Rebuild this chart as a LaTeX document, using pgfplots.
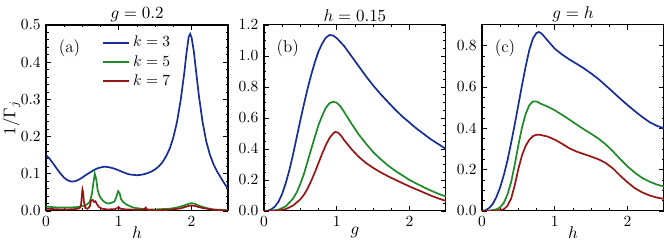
\documentclass[border=0pt]{standalone}
\usepackage{pgfplots}
\pgfplotsset{compat=1.18}
\definecolor{cB}{RGB}{22,46,150}
\definecolor{cG}{RGB}{30,138,40}
\definecolor{cR}{RGB}{150,22,22}
\newcommand{\elf}{\fontsize{11}{13}\selectfont}
\pgfplotsset{
  panel/.style={
    scale only axis, width=117.4pt, height=120pt,
    xmin=0, xmax=2.5, ymin=0,
    xtick={0,1,2}, minor x tick num=3,
    tick align=inside, xtick pos=both, ytick pos=both,
    major tick length=3pt, minor tick length=1.6pt,
    every tick/.style={black, line width=0.5pt},
    axis line style={line width=0.7pt},
    tick label style={font=\normalsize},
    yticklabel style={/pgf/number format/.cd, fixed, fixed zerofill, precision=1},
    every axis title shift=0pt,
    title style={at={(0.5,1)}, anchor=south, yshift=1.8pt, inner sep=0pt, font=\elf},
    label style={font=\elf},
    xlabel style={at={(axis description cs:0.5,0)}, anchor=center, yshift=-14pt},
    every axis plot/.append style={line width=1.1pt, no markers},
  }
}
\begin{document}
\begin{tikzpicture}
\path[use as bounding box] (-29.7pt,-24.5pt) rectangle (398.7pt,136.1pt);
% (a)
\begin{axis}[panel, at={(0pt,0pt)}, anchor=south west,
  ymax=0.5, ytick={0,0.1,...,0.5}, minor y tick num=4,
  title={$g=0.2$}, xlabel={$h$}, ylabel={$1/\Gamma_j$},
  ylabel style={at={(axis description cs:-0.19,0.5)}, anchor=center, rotate=0},
  legend style={at={(0.28,0.975)}, anchor=north west, draw=none, fill=none, font=\normalsize,
    row sep=0pt},
  legend cell align=left,
  legend image code/.code={\draw[#1, line width=1.1pt] (0cm,0cm) -- (0.6cm,0cm);}]
\addplot[cB] coordinates {
(0,0.150) (0.05,0.140) (0.1,0.127) (0.15,0.113) (0.2,0.100) (0.25,0.089) (0.3,0.082) (0.35,0.079) (0.4,0.080) (0.45,0.084) (0.5,0.090) (0.55,0.097) (0.6,0.103) (0.65,0.109) (0.7,0.114) (0.75,0.117) (0.8,0.119) (0.85,0.118) (0.9,0.116) (0.95,0.113) (1.0,0.109) (1.05,0.105) (1.1,0.101) (1.15,0.098) (1.2,0.097) (1.25,0.096) (1.3,0.097) (1.35,0.099) (1.4,0.102) (1.45,0.106) (1.5,0.112) (1.55,0.120) (1.6,0.131) (1.65,0.147) (1.7,0.168) (1.75,0.198) (1.8,0.240) (1.85,0.298) (1.9,0.372) (1.93,0.425) (1.96,0.468) (1.98,0.476) (2.0,0.466) (2.03,0.430) (2.06,0.378) (2.1,0.310) (2.15,0.240) (2.2,0.188) (2.25,0.152) (2.3,0.126) (2.35,0.106) (2.4,0.090) (2.45,0.074) (2.5,0.060)};
\addlegendentry{$k=3$}
\addplot[cG] coordinates {
(0,0.012) (0.1,0.010) (0.2,0.009) (0.3,0.009) (0.4,0.010) (0.45,0.011) (0.5,0.013) (0.55,0.016) (0.6,0.024) (0.63,0.045) (0.65,0.075) (0.67,0.100) (0.69,0.085) (0.71,0.055) (0.74,0.038) (0.78,0.028) (0.82,0.022) (0.86,0.020) (0.9,0.022) (0.94,0.025) (0.97,0.040) (0.99,0.053) (1.01,0.048) (1.03,0.032) (1.06,0.024) (1.1,0.018) (1.15,0.013) (1.2,0.009) (1.3,0.006) (1.4,0.004) (1.5,0.004) (1.6,0.005) (1.7,0.006) (1.8,0.009) (1.9,0.015) (1.97,0.020) (2.0,0.021) (2.05,0.019) (2.1,0.014) (2.2,0.008) (2.3,0.004) (2.4,0.003) (2.5,0.002)};
\addlegendentry{$k=5$}
\addplot[cR] coordinates {
(0,0.006) (0.1,0.005) (0.2,0.004) (0.3,0.004) (0.4,0.005) (0.46,0.007) (0.48,0.015) (0.5,0.058) (0.51,0.050) (0.52,0.025) (0.54,0.008) (0.57,0.006) (0.6,0.012) (0.62,0.028) (0.64,0.030) (0.66,0.024) (0.68,0.026) (0.7,0.018) (0.73,0.010) (0.77,0.006) (0.85,0.004) (0.95,0.005) (0.98,0.008) (1.0,0.010) (1.02,0.006) (1.1,0.004) (1.3,0.003) (1.35,0.004) (1.37,0.009) (1.39,0.003) (1.5,0.002) (1.7,0.003) (1.85,0.007) (1.95,0.013) (2.0,0.015) (2.05,0.013) (2.15,0.008) (2.3,0.003) (2.5,0.001)};
\addlegendentry{$k=7$}
\node[anchor=west, font=\elf] at (rel axis cs:0.04,0.875) {(a)};
\end{axis}
% (b)
\begin{axis}[panel, at={(140.6pt,0pt)}, anchor=south west,
  ymax=1.2, ytick={0,0.2,...,1.2}, minor y tick num=3,
  title={$h=0.15$}, xlabel={$g$}]
\addplot[cB] coordinates {
(0,0) (0.05,0.002) (0.1,0.010) (0.15,0.028) (0.2,0.060) (0.25,0.110) (0.3,0.180) (0.35,0.265) (0.4,0.365) (0.45,0.475) (0.5,0.585) (0.55,0.690) (0.6,0.790) (0.65,0.880) (0.7,0.960) (0.75,1.030) (0.8,1.080) (0.85,1.118) (0.9,1.135) (0.95,1.132) (1.0,1.115) (1.1,1.065) (1.2,1.000) (1.3,0.935) (1.4,0.870) (1.5,0.810) (1.6,0.755) (1.7,0.705) (1.8,0.655) (1.9,0.610) (2.0,0.570) (2.1,0.530) (2.2,0.495) (2.3,0.460) (2.4,0.430) (2.5,0.400)};
\addplot[cG] coordinates {
(0,0) (0.1,0.001) (0.2,0.008) (0.3,0.030) (0.4,0.080) (0.45,0.120) (0.5,0.175) (0.55,0.240) (0.6,0.320) (0.65,0.400) (0.7,0.480) (0.75,0.555) (0.8,0.615) (0.85,0.665) (0.9,0.695) (0.95,0.705) (1.0,0.698) (1.05,0.675) (1.1,0.640) (1.2,0.565) (1.3,0.495) (1.4,0.435) (1.5,0.380) (1.6,0.335) (1.7,0.295) (1.8,0.260) (1.9,0.230) (2.0,0.200) (2.1,0.175) (2.2,0.152) (2.3,0.130) (2.4,0.110) (2.5,0.093)};
\addplot[cR] coordinates {
(0,0) (0.1,0.000) (0.2,0.003) (0.3,0.012) (0.4,0.035) (0.5,0.075) (0.55,0.105) (0.6,0.145) (0.65,0.195) (0.7,0.250) (0.75,0.310) (0.8,0.370) (0.85,0.425) (0.9,0.470) (0.95,0.500) (0.98,0.510) (1.02,0.505) (1.06,0.485) (1.1,0.458) (1.2,0.400) (1.3,0.350) (1.4,0.310) (1.5,0.278) (1.6,0.250) (1.7,0.225) (1.8,0.202) (1.9,0.180) (2.0,0.158) (2.1,0.138) (2.2,0.118) (2.3,0.098) (2.4,0.080) (2.5,0.065)};
\node[anchor=west, font=\elf] at (rel axis cs:0.04,0.875) {(b)};
\end{axis}
% (c)
\begin{axis}[panel, at={(281.3pt,0pt)}, anchor=south west,
  ymax=0.9, ytick={0,0.2,...,0.8}, minor y tick num=3,
  title={$g=h$}, xlabel={$h$}]
\addplot[cB] coordinates {
(0,0) (0.05,0.004) (0.1,0.015) (0.15,0.035) (0.2,0.070) (0.25,0.115) (0.3,0.175) (0.35,0.245) (0.4,0.330) (0.45,0.420) (0.5,0.515) (0.55,0.610) (0.6,0.700) (0.65,0.780) (0.7,0.835) (0.75,0.862) (0.78,0.866) (0.82,0.858) (0.9,0.825) (1.0,0.785) (1.1,0.757) (1.2,0.733) (1.3,0.712) (1.4,0.690) (1.5,0.665) (1.6,0.638) (1.7,0.607) (1.8,0.575) (1.9,0.543) (2.0,0.512) (2.1,0.483) (2.2,0.455) (2.3,0.430) (2.4,0.412) (2.5,0.400)};
\addplot[cG] coordinates {
(0,0) (0.1,0.001) (0.2,0.008) (0.25,0.018) (0.3,0.040) (0.35,0.080) (0.4,0.140) (0.45,0.225) (0.5,0.320) (0.55,0.405) (0.6,0.470) (0.65,0.512) (0.7,0.530) (0.75,0.530) (0.8,0.520) (0.9,0.505) (1.0,0.487) (1.1,0.465) (1.2,0.442) (1.3,0.418) (1.4,0.395) (1.5,0.373) (1.6,0.350) (1.7,0.322) (1.8,0.288) (1.9,0.250) (2.0,0.215) (2.1,0.185) (2.2,0.160) (2.3,0.142) (2.4,0.128) (2.5,0.118)};
\addplot[cR] coordinates {
(0,0) (0.2,0.001) (0.3,0.008) (0.35,0.025) (0.4,0.060) (0.45,0.125) (0.5,0.205) (0.55,0.270) (0.6,0.315) (0.65,0.345) (0.7,0.362) (0.75,0.369) (0.8,0.368) (0.9,0.360) (1.0,0.345) (1.1,0.325) (1.2,0.303) (1.3,0.287) (1.4,0.275) (1.5,0.263) (1.6,0.250) (1.7,0.232) (1.8,0.205) (1.9,0.170) (2.0,0.138) (2.1,0.110) (2.2,0.090) (2.3,0.075) (2.4,0.065) (2.5,0.058)};
\node[anchor=west, font=\elf] at (rel axis cs:0.04,0.875) {(c)};
\end{axis}
\end{tikzpicture}
\end{document}
